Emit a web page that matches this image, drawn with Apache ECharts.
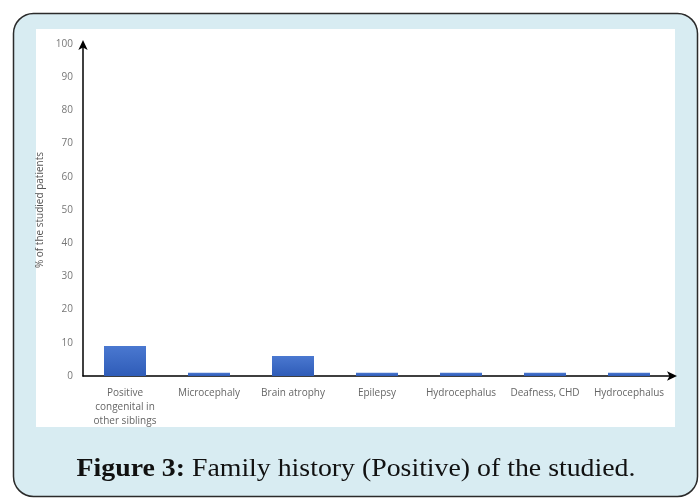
<!DOCTYPE html>
<html><head><meta charset="utf-8">
<style>html,body{margin:0;padding:0;background:#fff}#c{width:699px;height:498px}</style>
<script src="https://cdn.jsdelivr.net/npm/echarts@6/dist/echarts.min.js"></script>
</head><body><div id="c"></div>
<script>
const categories = ['Positive\ncongenital in\nother siblings','Microcephaly','Brain atrophy','Epilepsy','Hydrocephalus','Deafness, CHD','Hydrocephalus'];
const values = [9, 1, 6, 1, 1, 1, 1];
const yTitle = '% of the studied patients';
const captionBold = 'Figure 3:';
const caption = 'Family history (Positive) of the studied.';

const chart = echarts.init(document.getElementById('c'), null, {renderer:'canvas'});
chart.setOption({
  animation:false,
  backgroundColor:'#fff',
  graphic:[
    {type:'rect', z:-10, shape:{x:13.5,y:13.5,width:684,height:483,r:20}, style:{fill:'#d8ecf2',stroke:'#2b2b2b',lineWidth:1.5}},
    {type:'rect', z:-9, shape:{x:36,y:29,width:639,height:398}, style:{fill:'#fff'}},
    {type:'text', x:356, y:469, scaleX:1.07, originX:0, style:{align:'center',verticalAlign:'middle',rich:{b:{fontFamily:'Liberation Serif',fontWeight:'bold',fontSize:26,fill:'#111'},n:{fontFamily:'Liberation Serif',fontSize:26,fill:'#111'}}, text:'{b|'+captionBold+'}{n| '+caption+'}'}}
  ],
  grid:{left:83,right:28,top:44,bottom:122},
  xAxis:{type:'category',data:categories,
    axisLine:{lineStyle:{color:'#000',width:1.5},symbol:['none','arrow'],symbolSize:[7,10],symbolOffset:[0,6]},
    axisTick:{show:false},
    axisLabel:{color:'#666',fontFamily:'Open Sans',fontSize:10,lineHeight:14,margin:10,interval:0}},
  yAxis:{type:'value',min:0,max:100,interval:10,
    name:yTitle,nameLocation:'middle',nameGap:38,nameTextStyle:{color:'#555',fontFamily:'Open Sans',fontSize:10},
    axisLine:{show:true,lineStyle:{color:'#000',width:1.5},symbol:['none','arrow'],symbolSize:[7,10],symbolOffset:[0,4]},
    axisTick:{show:false},splitLine:{show:false},
    axisLabel:{color:'#777',fontFamily:'Open Sans',fontSize:10,margin:10}},
  series:[{type:'bar',data:values,barWidth:'50%',
    itemStyle:{color:new echarts.graphic.LinearGradient(0,0,0,1,[{offset:0,color:'#4a78d0'},{offset:1,color:'#2f5cb8'}])}}]
});
</script></body></html>
